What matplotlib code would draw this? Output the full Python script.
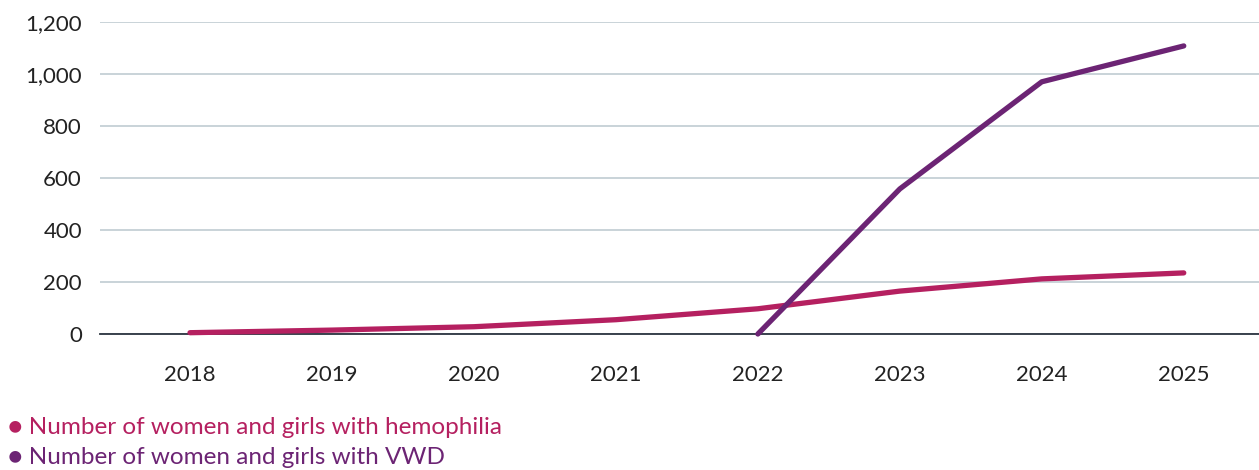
import matplotlib
matplotlib.use("Agg")
import matplotlib.pyplot as plt
from matplotlib.ticker import FuncFormatter

plt.rcParams['font.family'] = ['Lato', 'DejaVu Sans']

# data
years = ["2018", "2019", "2020", "2021", "2022", "2023", "2024", "2025"]
hemophilia = [5, 15, 28, 55, 97, 165, 212, 235]
vwd_years = ["2022", "2023", "2024", "2025"]
vwd = [0, 558, 970, 1108]

hemo_color = "#b52060"
vwd_color = "#6c2474"

fig = plt.figure(figsize=(12.59, 4.70), dpi=100)
ax = fig.add_axes([100 / 1259, 1 - 334 / 470, 1 - 100 / 1259, 312 / 470])

x_hemo = [years.index(y) for y in years]
x_vwd = [years.index(y) for y in vwd_years]

ax.plot(x_hemo, hemophilia, color=hemo_color, lw=3.8, solid_capstyle="round",
        clip_on=False, zorder=3)
ax.plot(x_vwd, vwd, color=vwd_color, lw=3.8, solid_capstyle="round",
        clip_on=False, zorder=4)

ax.set_xlim(-0.634, 7.53)
ax.set_ylim(0, 1200)
ax.set_yticks(range(0, 1201, 200))
ax.yaxis.set_major_formatter(FuncFormatter(lambda v, p: f"{int(v):,}"))
ax.set_xticks(range(len(years)))
ax.set_xticklabels(years)

ax.grid(axis="y", color="#c5d0d5", lw=1.3)
ax.set_axisbelow(True)
for s in ["top", "right", "left"]:
    ax.spines[s].set_visible(False)
ax.spines["bottom"].set_color("#2b3440")
ax.spines["bottom"].set_linewidth(1.3)
ax.tick_params(axis="both", length=0, labelsize=16, colors="#222222")
ax.tick_params(axis="x", pad=22)
ax.tick_params(axis="y", pad=13)

fig.text(8 / 1259, 1 - 428 / 470, "\u25cf Number of women and girls with hemophilia",
         color=hemo_color, fontsize=17.5, va="center", ha="left")
fig.text(8 / 1259, 1 - 458 / 470, "\u25cf Number of women and girls with VWD",
         color=vwd_color, fontsize=17.5, va="center", ha="left")

fig.savefig("out.png", dpi=100)
